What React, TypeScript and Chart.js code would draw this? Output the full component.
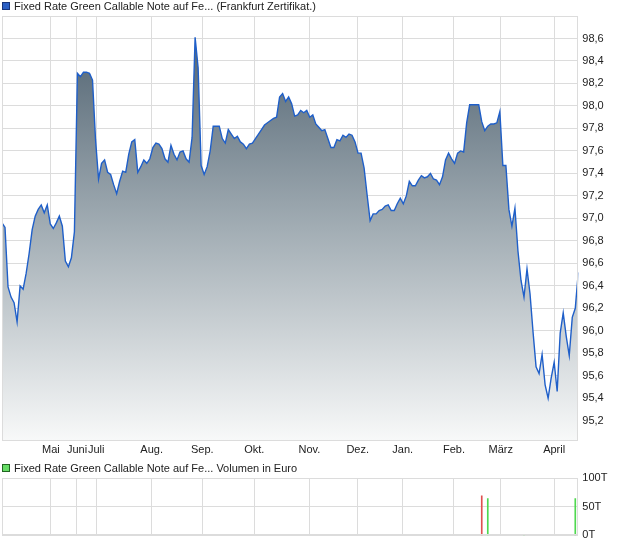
import React, { useEffect, useRef } from "react";
import { Chart, registerables } from "chart.js";

Chart.register(...registerables);

const priceLabel = "Fixed Rate Green Callable Note auf Fe... (Frankfurt Zertifikat.)";
const volumeLabel = "Fixed Rate Green Callable Note auf Fe... Volumen in Euro";

// closing prices by trading-day index
const priceValues = [
  96.96, 96.92, 96.39, 96.3, 96.25, 96.08, 96.4, 96.37, 96.51, 96.69,
  96.9, 97.02, 97.08, 97.12, 97.05, 97.12, 96.95, 96.91, 96.96, 97.02,
  96.93, 96.62, 96.57, 96.65, 96.88, 98.29, 98.26, 98.3, 98.3, 98.29,
  98.23, 97.7, 97.35, 97.49, 97.52, 97.41, 97.39, 97.3, 97.22, 97.33,
  97.42, 97.41, 97.57, 97.68, 97.7, 97.41, 97.46, 97.52, 97.49, 97.53,
  97.63, 97.67, 97.66, 97.62, 97.53, 97.5, 97.65, 97.57, 97.52, 97.59,
  97.6, 97.53, 97.5, 97.72, 98.61, 98.34, 97.47, 97.39, 97.46, 97.6,
  97.82, 97.82, 97.82, 97.71, 97.67, 97.79, 97.75, 97.71, 97.73, 97.68,
  97.66, 97.62, 97.66, 97.67, 97.71, 97.75, 97.79, 97.83, 97.85, 97.87,
  97.89, 97.9, 98.08, 98.11, 98.04, 98.08, 98.02, 97.91, 97.92, 97.96,
  97.94, 97.96, 97.9, 97.92, 97.84, 97.81, 97.78, 97.79, 97.71, 97.63,
  97.63, 97.7, 97.69, 97.74, 97.72, 97.75, 97.74, 97.68, 97.58, 97.58,
  97.45, 97.21, 96.98, 97.04, 97.04, 97.07, 97.08, 97.11, 97.12, 97.07,
  97.07, 97.13, 97.18, 97.13, 97.2, 97.33, 97.29, 97.29, 97.34, 97.38,
  97.36, 97.37, 97.4, 97.35, 97.34, 97.3, 97.37, 97.52, 97.58, 97.53,
  97.49, 97.58, 97.6, 97.59, 97.85, 98.01, 98.01, 98.01, 98.01, 97.86,
  97.78, 97.82, 97.84, 97.84, 97.85, 97.95, 97.47, 97.47, 97.08, 96.93,
  97.09, 96.71, 96.45, 96.3, 96.55, 96.33, 95.99, 95.68, 95.62, 95.79,
  95.52, 95.4, 95.58, 95.72, 95.46, 95.98, 96.16, 95.95, 95.78, 96.12,
  96.2, 96.52,
];

// month starts (trading-day index) and their labels
const monthTickDays = [16.2, 24.85, 31.2, 49.6, 66.4, 83.6, 101.9, 117.9, 132.8, 149.8, 165.3, 183.0];
const monthLabels = ["Mai", "Juni", "Juli", "Aug.", "Sep.", "Okt.", "Nov.", "Dez.", "Jan.", "Feb.", "März", "April"];

const priceTicks = [95.2, 95.4, 95.6, 95.8, 96.0, 96.2, 96.4, 96.6, 96.8, 97.0, 97.2, 97.4, 97.6, 97.8, 98.0, 98.2, 98.4, 98.6];
const priceMin = 95.02;
const priceMax = 98.8;

// volume (thousand euro) by trading-day index
const volumeDays = [159, 161, 173, 190];
const volumeValues = [69, 64, 1, 64];
const volumeUp = [false, true, true, true];
const volumeTicks = [0, 50, 100];
const volumeTickLabels = ["0T", "50T", "100T"];

const DAY_MAX = priceValues.length - 1;
const FONT = '"Liberation Sans", Arial, Helvetica, sans-serif';
const GRID = "#dcdcdc";
const TEXT = "#222";

const framePlugin = {
  id: "frame",
  afterDatasetsDraw(chart: any) {
    const { ctx, chartArea: a } = chart;
    ctx.save();
    ctx.strokeStyle = GRID;
    ctx.lineWidth = 1;
    const l = Math.round(a.left) + 0.5;
    const t = Math.round(a.top) + 0.5;
    const r = Math.round(a.right) - 0.5;
    const b = Math.round(a.bottom) - 0.5;
    ctx.strokeRect(l, t, r - l, b - t);
    ctx.restore();
  },
};

const legendStyle = (top: number): React.CSSProperties => ({
  position: "absolute",
  left: 2,
  top,
  font: `11px ${FONT}`,
  color: TEXT,
  whiteSpace: "nowrap",
  lineHeight: "12px",
  display: "flex",
  alignItems: "center",
});

const boxStyle = (fill: string, border: string): React.CSSProperties => ({
  display: "inline-block",
  width: 6,
  height: 6,
  background: fill,
  border: `1px solid ${border}`,
  marginRight: 4,
});

export default function App() {
  const priceRef = useRef<HTMLCanvasElement>(null);
  const volRef = useRef<HTMLCanvasElement>(null);

  useEffect(() => {
    const xCommon = (showLabels: boolean, height: number) => ({
      type: "linear" as const,
      min: 0,
      max: DAY_MAX,
      offset: false,
      afterBuildTicks: (s: any) => {
        s.ticks = monthTickDays.map((v) => ({ value: v }));
      },
      afterFit: (s: any) => {
        s.height = height;
      },
      grid: { color: GRID, drawTicks: false, offset: false },
      border: { display: false },
      ticks: {
        display: showLabels,
        autoSkip: false,
        maxRotation: 0,
        padding: 2,
        color: TEXT,
        font: { family: FONT, size: 11 },
        callback: (_v: any, i: number) => monthLabels[i],
      },
    });

    const priceChart = new Chart(priceRef.current!, {
      type: "line",
      data: {
        datasets: [
          {
            label: priceLabel,
            data: priceValues.map((y, i) => ({ x: i, y })),
            borderColor: "#1f5fc9",
            borderWidth: 1.4,
            pointRadius: 0,
            tension: 0,
            fill: "start",
            backgroundColor: (c: any) => {
              const a = c.chart.chartArea;
              if (!a) return "#a0abb2";
              const g = c.chart.ctx.createLinearGradient(0, a.top, 0, a.bottom);
              g.addColorStop(0, "#4a5d6c");
              g.addColorStop(0.5, "#a2adb4");
              g.addColorStop(1, "#f8f9f9");
              return g;
            },
          },
        ],
      },
      options: {
        responsive: false,
        animation: false,
        devicePixelRatio: 1,
        layout: { padding: { left: 2, top: 16, right: 0, bottom: 0 } },
        plugins: { legend: { display: false }, tooltip: { enabled: false } },
        scales: {
          x: xCommon(true, 19) as any,
          y: {
            type: "linear",
            position: "right",
            min: priceMin,
            max: priceMax,
            afterBuildTicks: (s: any) => {
              s.ticks = priceTicks.map((v) => ({ value: v }));
            },
            afterFit: (s: any) => {
              s.width = 41.7;
            },
            grid: { color: GRID, drawTicks: false },
            border: { display: false },
            ticks: {
              padding: 4,
              color: TEXT,
              font: { family: FONT, size: 11 },
              callback: (v: any) => Number(v).toFixed(1).replace(".", ","),
            },
          },
        },
      },
      plugins: [framePlugin],
    });

    const volChart = new Chart(volRef.current!, {
      type: "bar",
      data: {
        datasets: [
          {
            label: volumeLabel,
            data: volumeDays.map((d, i) => ({ x: d, y: volumeValues[i] })),
            backgroundColor: volumeUp.map((u) => (u ? "#4fd84f" : "#e05050")),
            borderWidth: 0,
            barThickness: 1,
          },
        ],
      },
      options: {
        responsive: false,
        animation: false,
        devicePixelRatio: 1,
        layout: { padding: { left: 2, top: 18, right: 0, bottom: 0 } },
        plugins: { legend: { display: false }, tooltip: { enabled: false } },
        scales: {
          x: xCommon(false, 10) as any,
          y: {
            type: "linear",
            position: "right",
            min: 0,
            max: 100,
            afterBuildTicks: (s: any) => {
              s.ticks = volumeTicks.map((v) => ({ value: v }));
            },
            afterFit: (s: any) => {
              s.width = 41.7;
            },
            grid: { color: GRID, drawTicks: false },
            border: { display: false },
            ticks: {
              padding: 4,
              color: TEXT,
              font: { family: FONT, size: 11 },
              callback: (_v: any, i: number) => volumeTickLabels[i],
            },
          },
        },
      },
      plugins: [framePlugin],
    });

    return () => {
      priceChart.destroy();
      volChart.destroy();
    };
  }, []);

  return (
    <div style={{ position: "absolute", left: 0, top: 0, width: 620, height: 546, background: "#fff" }}>
      <canvas ref={priceRef} width={620} height={460} style={{ position: "absolute", left: 0, top: 0, display: "block" }} />
      <canvas ref={volRef} width={620} height={86} style={{ position: "absolute", left: 0, top: 460, display: "block" }} />
      <div style={legendStyle(0)}>
        <span style={boxStyle("#2a5fc4", "#17347a")} />
        <span>{priceLabel}</span>
      </div>
      <div style={legendStyle(462)}>
        <span style={boxStyle("#66dd66", "#226622")} />
        <span>{volumeLabel}</span>
      </div>
    </div>
  );
}
